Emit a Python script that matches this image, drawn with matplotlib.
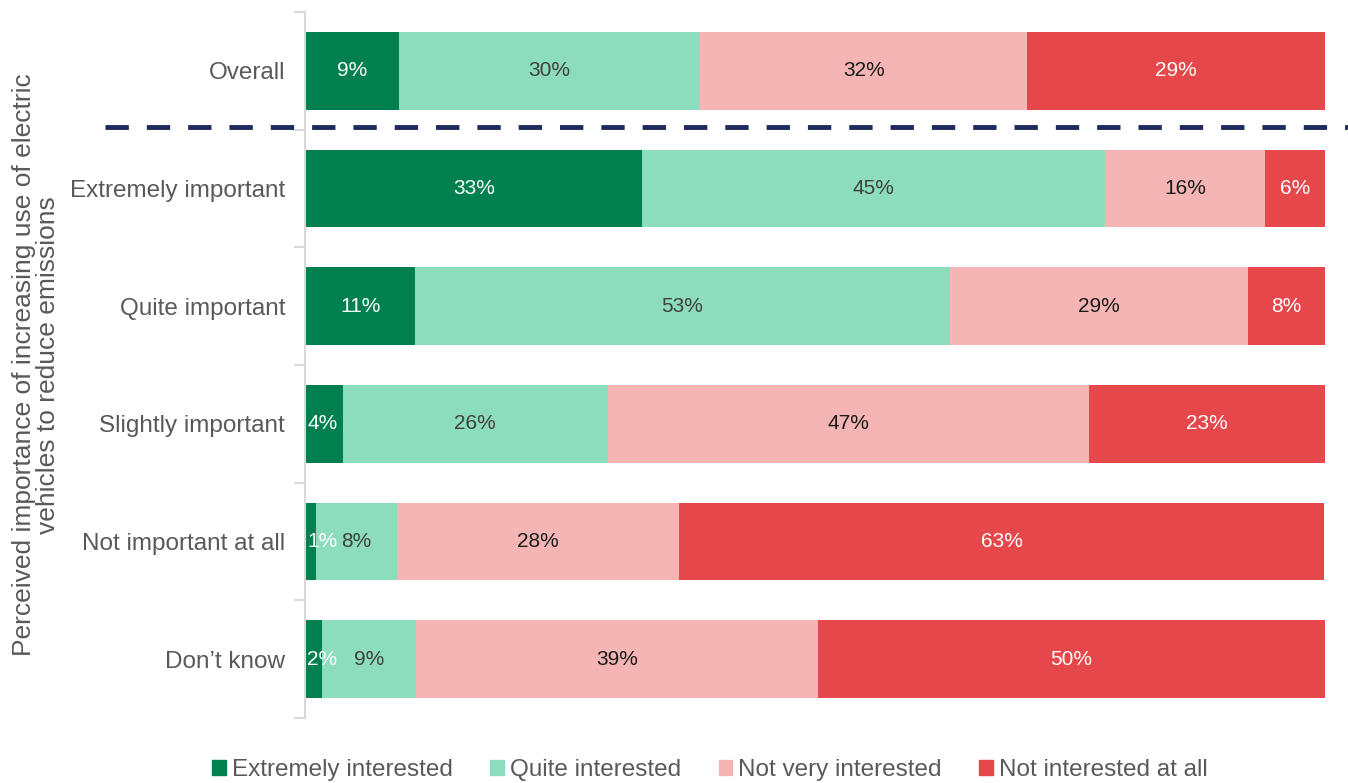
import matplotlib.pyplot as plt
import numpy as np
from matplotlib.lines import Line2D
from matplotlib.patches import Patch

plt.rcParams['font.family'] = ['Liberation Sans', 'DejaVu Sans']

categories = ['Overall', 'Extremely important', 'Quite important',
              'Slightly important', 'Not important at all', 'Don\u2019t know']
series = ['Extremely interested', 'Quite interested',
          'Not very interested', 'Not interested at all']

# shares (printed labels are rounded)
extremely = [9.1, 33.0, 10.7, 3.6, 1.0, 1.6]
quite = [29.6, 45.4, 52.5, 26.0, 7.9, 9.2]
not_very = [32.1, 15.7, 29.2, 47.2, 27.7, 39.4]
not_at_all = [29.2, 5.9, 7.6, 23.2, 63.3, 49.8]

labels = [
    ['9%', '30%', '32%', '29%'],
    ['33%', '45%', '16%', '6%'],
    ['11%', '53%', '29%', '8%'],
    ['4%', '26%', '47%', '23%'],
    ['1%', '8%', '28%', '63%'],
    ['2%', '9%', '39%', '50%'],
]

colors = ['#00804E', '#8CDCBE', '#F4B5B4', '#E5474A']
text_colors = ['white', '#404040', '#1a1a1a', 'white']

fig = plt.figure(figsize=(13.48, 7.83), dpi=100)
ax = fig.add_axes([306 / 1348, 65 / 783, 1019 / 1348, 706 / 783])

y = np.arange(len(categories))
data = np.array([extremely, quite, not_very, not_at_all])
left = np.zeros(len(categories))
for i, vals in enumerate(data):
    ax.barh(y, vals, left=left, height=0.66, color=colors[i], label=series[i])
    for j, v in enumerate(vals):
        if i == 0 and v < 4:
            # narrow first segment: label starts at the bar edge
            ax.text(left[j] + 0.1, y[j], labels[j][i], ha='left', va='center',
                    fontsize=15, color=text_colors[i])
        else:
            ax.text(left[j] + v / 2, y[j], labels[j][i], ha='center', va='center',
                    fontsize=15, color=text_colors[i])
    left = left + vals

ax.set_xlim(0, 100)
ax.set_ylim(len(categories) - 0.5, -0.5)
ax.set_xticks([])
ax.set_yticks(y)
ax.set_yticklabels(categories)
ax.set_yticks(np.arange(-0.5, len(categories)), minor=True)
ax.tick_params(axis='y', which='major', length=0, pad=14,
               labelsize=17.5, labelcolor='#595959')
ax.tick_params(axis='y', which='minor', length=8, color='#D9D9D9', width=1.5)
for s in ['top', 'right', 'bottom']:
    ax.spines[s].set_visible(False)
ax.spines['left'].set_color('#D9D9D9')
ax.spines['left'].set_linewidth(1.5)
ax.spines['left'].set_position(('outward', 1))

ax.set_ylabel('Perceived importance of increasing use of electric\nvehicles to reduce emissions',
              fontsize=19, color='#595959', linespacing=1.0)
ax.yaxis.set_label_coords(-0.241, 0.5)

# divider between overall and breakdown
fig.add_artist(Line2D([105 / 1348, 1.0], [1 - 127 / 783, 1 - 127 / 783],
                      color='#1F2A5C', linewidth=3.5, linestyle=(0, (4.8, 3.7))))

handles = [Patch(color=c) for c in colors]
fig.legend(handles, series, loc='center', bbox_to_anchor=(710 / 1348, 1 - 770 / 783),
           ncol=4, frameon=False, fontsize=17.5, handlelength=0.55, handleheight=0.55,
           handletextpad=0.25, columnspacing=1.55, labelcolor='#595959',
           borderpad=0, borderaxespad=0)

fig.savefig('out.png', dpi=100)
